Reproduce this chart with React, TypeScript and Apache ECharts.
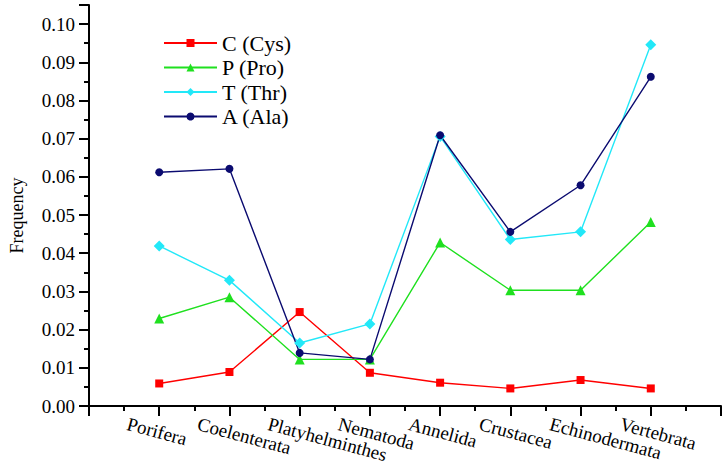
import React, { useEffect, useRef } from "react";
import * as echarts from "echarts";

const categories = [
  "Porifera",
  "Coelenterata",
  "Platyhelminthes",
  "Nematoda",
  "Annelida",
  "Crustacea",
  "Echinodermata",
  "Vertebrata",
];
const cys = [0.0059, 0.0089, 0.0246, 0.0087, 0.0061, 0.0046, 0.0068, 0.0046];
const pro = [0.0229, 0.0285, 0.0122, 0.0122, 0.0428, 0.0303, 0.0303, 0.0482];
const thr = [0.0419, 0.0329, 0.0165, 0.0215, 0.0706, 0.0436, 0.0456, 0.0946];
const ala = [0.0612, 0.0621, 0.0139, 0.0122, 0.0709, 0.0456, 0.0578, 0.0862];
const seriesNames = ["C (Cys)", "P (Pro)", "T (Thr)", "A (Ala)"];
const yTicks = [0, 0.01, 0.02, 0.03, 0.04, 0.05, 0.06, 0.07, 0.08, 0.09, 0.1];

const FONT = "Liberation Serif";

export default function App() {
  const ref = useRef<HTMLDivElement>(null);
  useEffect(() => {
    if (!ref.current) return;
    const chart = echarts.init(ref.current, null, { renderer: "svg" });
    const toPts = (arr: number[]) => arr.map((v, i) => [i + 1, v]);
    const mk = (name: string, arr: number[], color: string, symbol: string, size: number) => ({
      name,
      type: "line",
      xAxisIndex: 0,
      yAxisIndex: 0,
      data: toPts(arr),
      symbol,
      symbolSize: size,
      lineStyle: { color, width: 1.4 },
      itemStyle: { color },
    });
    chart.setOption({
      animation: false,
      backgroundColor: "#ffffff",
      grid: [
        { left: 87, right: 6, top: 5, bottom: 59 },
        { left: 57, right: 36, top: 5, bottom: 59 },
      ],
      legend: {
        orient: "vertical",
        left: 158,
        top: 27,
        itemWidth: 53,
        itemHeight: 10,
        itemGap: 2.5,
        data: seriesNames,
        textStyle: { fontFamily: FONT, fontSize: 22, color: "#000", lineHeight: 22 },
      },
      xAxis: [
        {
          type: "value",
          gridIndex: 0,
          min: 0,
          max: 9,
          interval: 1,
          splitLine: { show: false },
          axisLine: { show: true, onZero: false, lineStyle: { color: "#000", width: 2 } },
          axisTick: { show: true, length: 10, lineStyle: { color: "#000", width: 2 } },
          minorTick: { show: true, splitNumber: 2, length: 5, lineStyle: { color: "#000", width: 2 } },
          axisLabel: { show: false },
        },
        {
          type: "value",
          gridIndex: 1,
          min: 0,
          max: 9,
          interval: 1,
          splitLine: { show: false },
          axisLine: { show: false },
          axisTick: { show: false },
          axisLabel: {
            show: true,
            rotate: -15,
            margin: 25,
            fontFamily: FONT,
            fontSize: 19,
            color: "#000",
            formatter: (v: number) => {
              const i = Math.round(v) - 1;
              return i >= 0 && i < categories.length ? categories[i] : "";
            },
          },
        },
      ],
      yAxis: [
        {
          type: "value",
          gridIndex: 0,
          min: 0,
          max: 0.105,
          interval: 0.01,
          name: "Frequency",
          nameLocation: "middle",
          nameGap: 63,
          nameTextStyle: { fontFamily: FONT, fontSize: 18, color: "#000", padding: [0, 20, 0, 0] },
          splitLine: { show: false },
          axisLine: { show: true, lineStyle: { color: "#000", width: 2 } },
          axisTick: { show: true, length: 10, lineStyle: { color: "#000", width: 2 } },
          minorTick: { show: true, splitNumber: 2, length: 5, lineStyle: { color: "#000", width: 2 } },
          axisLabel: {
            margin: 14,
            fontFamily: FONT,
            fontSize: 19,
            color: "#000",
            formatter: (v: number) => {
              const hit = yTicks.find((t) => Math.abs(t - v) < 1e-6);
              return hit === undefined ? "" : hit.toFixed(2);
            },
          },
        },
        { type: "value", gridIndex: 1, min: 0, max: 0.105, show: false },
      ],
      series: [
        mk(seriesNames[0], cys, "#ff0000", "rect", 8),
        mk(seriesNames[1], pro, "#1fe01f", "triangle", 10),
        mk(seriesNames[2], thr, "#22e8f8", "diamond", 11),
        mk(seriesNames[3], ala, "#0b0b70", "circle", 8),
      ],
    });
    return () => chart.dispose();
  }, []);
  return (
    <div
      ref={ref}
      style={{ position: "fixed", left: 0, top: 0, width: 727, height: 465 }}
    />
  );
}
